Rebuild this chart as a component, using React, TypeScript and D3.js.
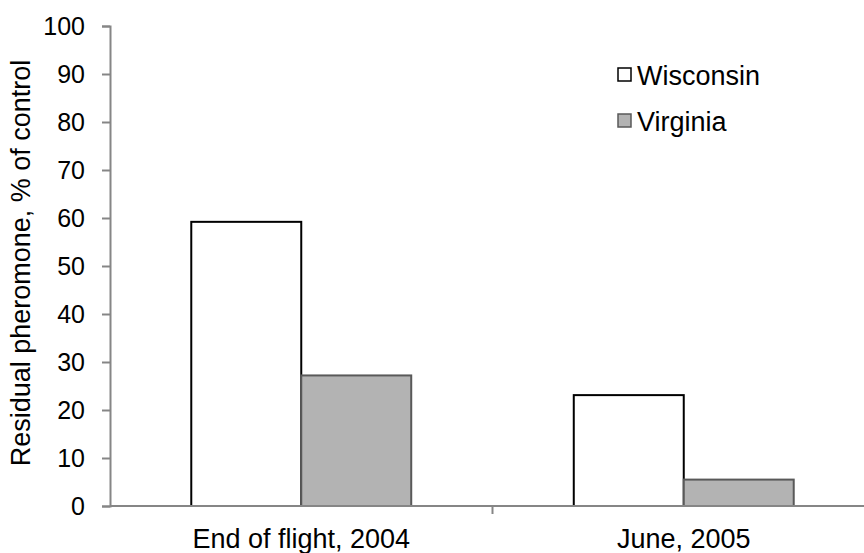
import React, { useEffect, useRef } from 'react';
import * as d3 from 'd3';

// chart data
const categories = ['End of flight, 2004', 'June, 2005'];
const seriesNames = ['Wisconsin', 'Virginia'];
const wisconsinValues = [59.2, 23.1];
const virginiaValues = [27.2, 5.5];
const yTicks = [0, 10, 20, 30, 40, 50, 60, 70, 80, 90, 100];

const fills: Record<string, string> = { Wisconsin: '#ffffff', Virginia: '#b3b3b3' };
const strokes: Record<string, string> = { Wisconsin: '#000000', Virginia: '#595959' };

const App = () => {
  const chartRef = useRef<SVGSVGElement | null>(null);

  useEffect(() => {
    drawChart();
  }, []);

  const drawChart = () => {
    const font = '"Liberation Sans", Arial, sans-serif';
    const axisColor = '#868686';

    const svg = d3.select(chartRef.current);
    svg.selectAll('*').remove();

    // plot area
    const left = 110;
    const right = 875; // plot runs a bit past the picture edge
    const top = 26;
    const bottom = 506;

    const x0 = d3.scaleBand<string>()
      .domain(categories)
      .range([left, right])
      .paddingInner(0)
      .paddingOuter(0);

    const x1 = d3.scaleBand<string>()
      .domain(seriesNames)
      .range([0, x0.bandwidth()])
      .paddingInner(0)
      .paddingOuter(0.739);

    const y = d3.scaleLinear()
      .domain([0, 100])
      .range([bottom, top]);

    const rows = categories.map((c, i) => ({
      category: c,
      values: [
        { name: 'Wisconsin', value: wisconsinValues[i] },
        { name: 'Virginia', value: virginiaValues[i] },
      ],
    }));

    // bars
    const groups = svg.selectAll('.group')
      .data(rows)
      .enter()
      .append('g')
      .attr('class', 'group')
      .attr('transform', d => `translate(${x0(d.category)},0)`);

    groups.selectAll('rect')
      .data(d => d.values)
      .enter()
      .append('rect')
      .attr('x', d => x1(d.name) as number)
      .attr('y', d => y(d.value))
      .attr('width', x1.bandwidth())
      .attr('height', d => bottom - y(d.value))
      .style('fill', d => fills[d.name])
      .style('stroke', d => strokes[d.name])
      .style('stroke-width', '2px');

    // y axis
    const yAxis = d3.axisLeft(y)
      .tickValues(yTicks)
      .tickSize(8)
      .tickPadding(17)
      .tickFormat(d => `${d}`);

    const gy = svg.append('g')
      .attr('transform', `translate(${left},0)`)
      .call(yAxis);
    gy.select('.domain').attr('stroke', axisColor).attr('stroke-width', 2);
    gy.selectAll('.tick line').attr('stroke', axisColor).attr('stroke-width', 2);
    gy.selectAll('.tick text')
      .style('font-family', font)
      .style('font-size', '25px')
      .attr('fill', '#000');

    // x axis: line plus ticks at category boundaries
    svg.append('line')
      .attr('x1', left)
      .attr('x2', right)
      .attr('y1', bottom)
      .attr('y2', bottom)
      .attr('stroke', axisColor)
      .attr('stroke-width', 2);

    const boundaries = categories.map(c => (x0(c) as number) + x0.bandwidth());
    svg.selectAll('.xtick')
      .data(boundaries)
      .enter()
      .append('line')
      .attr('class', 'xtick')
      .attr('x1', d => d)
      .attr('x2', d => d)
      .attr('y1', bottom)
      .attr('y2', bottom + 8)
      .attr('stroke', axisColor)
      .attr('stroke-width', 2);

    svg.selectAll('.xlabel')
      .data(categories)
      .enter()
      .append('text')
      .attr('class', 'xlabel')
      .attr('x', d => (x0(d) as number) + x0.bandwidth() / 2)
      .attr('y', 548)
      .attr('text-anchor', 'middle')
      .style('font-family', font)
      .style('font-size', '27px')
      .text(d => d);

    // y axis title
    svg.append('text')
      .attr('transform', `translate(30, 263) rotate(-90)`)
      .attr('text-anchor', 'middle')
      .style('font-family', font)
      .style('font-size', '27px')
      .text('Residual pheromone, % of control');

    // legend
    const legend = svg.selectAll('.legend')
      .data(seriesNames)
      .enter()
      .append('g')
      .attr('class', 'legend')
      .attr('transform', (d, i) => `translate(618, ${75 + i * 46})`);

    legend.append('rect')
      .attr('x', 0)
      .attr('y', -7)
      .attr('width', 13)
      .attr('height', 13)
      .style('fill', d => fills[d])
      .style('stroke', d => strokes[d])
      .style('stroke-width', '1.5px');

    legend.append('text')
      .attr('x', 19)
      .attr('y', 10)
      .style('font-family', font)
      .style('font-size', '27px')
      .text(d => d);
  };

  return (
    <div style={{ position: 'fixed', left: 0, top: 0 }}>
      <svg ref={chartRef} width={864} height={553} style={{ display: 'block', background: '#fff' }} />
    </div>
  );
};

export default App;
